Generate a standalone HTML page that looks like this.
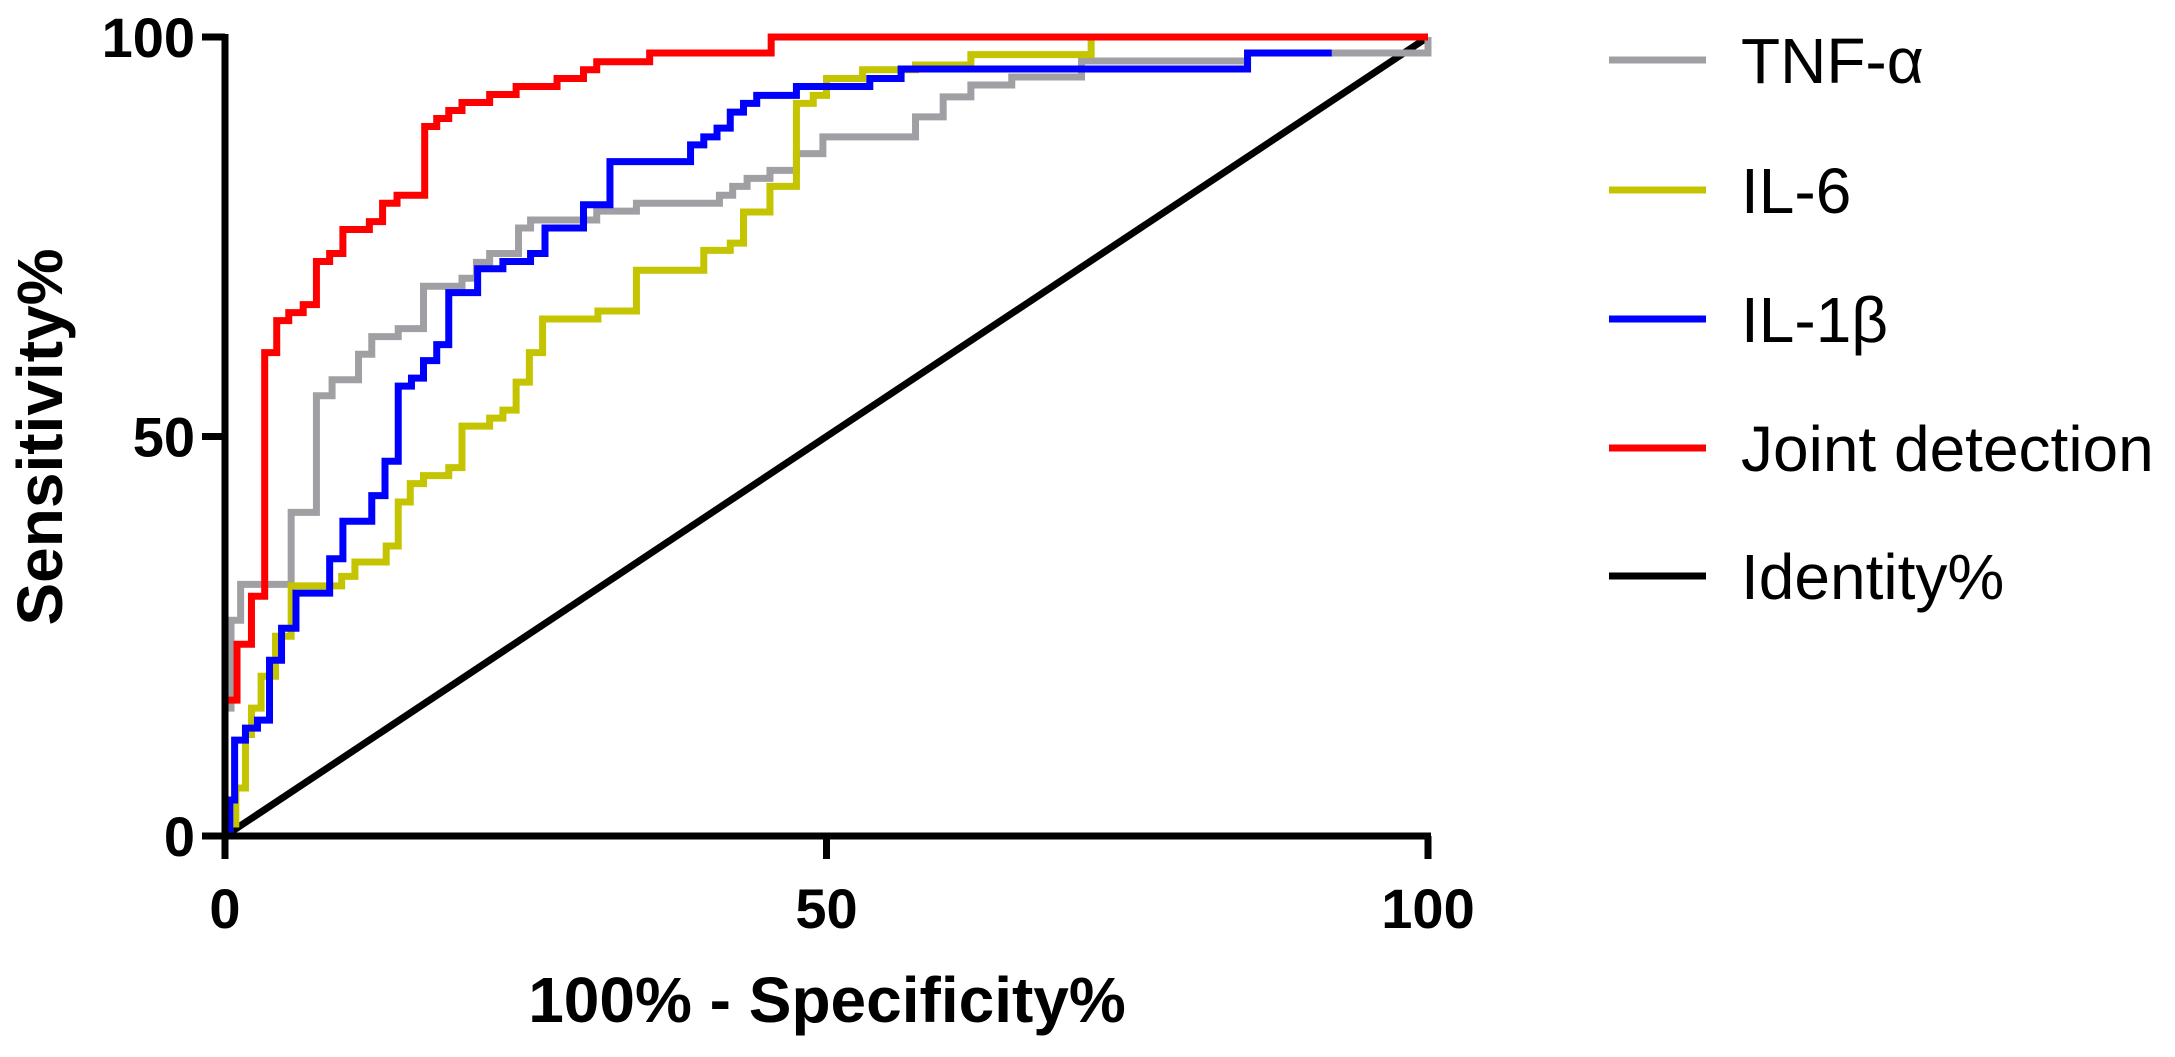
<!DOCTYPE html>
<html><head><meta charset="utf-8"><style>
html,body{margin:0;padding:0;background:#fff;}
svg text{font-family:"Liberation Sans",Arial,sans-serif;}
</style></head><body>
<svg id="chart" width="2175" height="1052" viewBox="0 0 2175 1052" xmlns="http://www.w3.org/2000/svg">
<g id="plot"></g>
<g id="axes"></g>
<g id="legend"></g>
</svg>
<script>
const xTicks = [0, 50, 100];
const yTicks = [0, 50, 100];
const seriesNames = ["TNF-α", "IL-6", "IL-1β", "Joint detection", "Identity%"];
const seriesColors = ["#a0a0a4", "#c4c400", "#0000ff", "#ff0000", "#000000"];
const tnfX = [0,0,0.5,1.3,5.5,7.6,8.9,11.1,12.2,14.4,16.5,19.7,20.9,22.0,24.4,25.4,30.9,34.2,41.1,42.2,43.4,45.3,47.5,49.7,57.4,59.7,62,65.4,71.2,85,100];
const tnfY = [0,16,27,31.5,40.5,55.1,57.1,60.3,62.5,63.5,68.8,69.8,71.8,72.9,76.1,77.1,78.2,79.2,80.2,81.3,82.3,83.3,85.4,87.5,90,92.5,94,95,97,98,100];
const il6X = [0,0.4,0.9,1.7,2.2,3.0,4.2,5.5,9.7,10.8,13.4,14.4,15.4,16.5,18.6,19.7,22.0,23.1,24.2,25.3,26.4,31.0,34.2,39.8,42.0,43.1,45.3,47.5,48.9,50.0,53.0,57.4,62,72,100];
const il6Y = [0,1.5,6,12.7,16,20,25,31.3,32.5,34.3,36.3,41.8,44.1,45.1,46.1,51.3,52.3,53.3,56.8,60.5,64.7,65.7,70.8,73.3,74.2,78.1,81.3,91.7,92.7,94.8,95.9,96.5,97.8,100,100];
const il1X = [0,0.4,0.8,1.7,2.7,3.7,4.7,5.9,8.7,9.8,12.2,13.3,14.4,15.5,16.5,17.6,18.6,21.0,23.1,25.4,26.6,29.8,32.0,38.7,39.8,40.9,42.0,43.1,44.2,47.5,53.6,56.2,85,92];
const il1Y = [0,4.5,12,13.5,14.5,22,26,30.4,34.7,39.4,42.6,46.9,56.3,57.3,59.5,61.5,68,71,71.9,72.9,76.1,79,84.4,86.5,87.5,88.6,90.6,91.7,92.7,93.8,94.8,96,98,98];
const jointX = [0,0,1.0,2.2,3.3,4.3,5.3,6.5,7.6,8.7,9.8,12.0,13.1,14.3,16.6,17.6,18.6,19.7,22.0,24.2,27.6,29.8,30.9,35.3,45.4,100];
const jointY = [0,17,24,30,60.5,64.5,65.5,66.5,71.9,72.9,75.9,76.9,79.2,80.2,88.8,89.8,90.8,91.8,92.8,93.8,94.8,95.9,96.9,98,100,100];
const identityX = [0, 100];
const identityY = [0, 100];

const NS = "http://www.w3.org/2000/svg";
const X0 = 225, X1 = 1428, Y0 = 836, Y1 = 37;
const LW = 7;
function sx(v){ return X0 + (X1 - X0) * v / 100; }
function sy(v){ return Y0 - (Y0 - Y1) * v / 100; }
function mk(tag, attrs, parent){
  const e = document.createElementNS(NS, tag);
  for (const k in attrs) e.setAttribute(k, attrs[k]);
  parent.appendChild(e);
  return e;
}
const plot = document.getElementById("plot");
const axes = document.getElementById("axes");
const legend = document.getElementById("legend");

function stepPath(xs, ys){
  let d = "M" + sx(xs[0]) + "," + sy(ys[0]);
  for (let i = 1; i < xs.length; i++){
    d += " H" + sx(xs[i]) + " V" + sy(ys[i]);
  }
  return d;
}
const order = [
  [tnfX, tnfY, 0, "tnf-alpha-curve"],
  [il6X, il6Y, 1, "il6-curve"],
  [il1X, il1Y, 2, "il1-beta-curve"],
  [jointX, jointY, 3, "joint-detection-curve"]
];
const lid = mk("line", {x1:sx(identityX[0]), y1:sy(identityY[0]), x2:sx(identityX[1]), y2:sy(identityY[1]), stroke:seriesColors[4], "stroke-width":LW}, plot);


order.forEach(o => {
  const p = mk("path", {d:stepPath(o[0], o[1]), fill:"none", stroke:seriesColors[o[2]], "stroke-width":LW, "stroke-linejoin":"miter"}, plot);
  
  
});

const ya = mk("line", {x1:X0, y1:Y1-3, x2:X0, y2:Y0+3, stroke:"#000", "stroke-width":LW}, axes);


const xa = mk("line", {x1:X0-3, y1:Y0, x2:X1+3, y2:Y0, stroke:"#000", "stroke-width":LW}, axes);


yTicks.forEach(v => {
  const t = mk("line", {x1:X0-23, y1:sy(v), x2:X0, y2:sy(v), stroke:"#000", "stroke-width":LW}, axes);
  
  
  const l = mk("text", {x:X0-30, y:sy(v)+20, "text-anchor":"end", "font-size":56, "font-weight":"bold"}, axes);
  l.textContent = v;
  
  
});
xTicks.forEach(v => {
  const t = mk("line", {x1:sx(v), y1:Y0, x2:sx(v), y2:Y0+23, stroke:"#000", "stroke-width":LW}, axes);
  
  
  const l = mk("text", {x:sx(v), y:928, "text-anchor":"middle", "font-size":56, "font-weight":"bold"}, axes);
  l.textContent = v;
  
  
});
const xt = mk("text", {x:827, y:1022, "text-anchor":"middle", "font-size":64, "font-weight":"bold"}, axes);
xt.textContent = "100% - Specificity%";


const yt = mk("text", {x:0, y:0, "text-anchor":"middle", "font-size":64, "font-weight":"bold", transform:"translate(62,437) rotate(-90)"}, axes);
yt.textContent = "Sensitivity%";



const legY = [60, 190, 319, 448, 576];
seriesNames.forEach((n, i) => {
  const g = mk("g", {}, legend);
  
  
  mk("line", {x1:1609, y1:legY[i], x2:1706, y2:legY[i], stroke:seriesColors[i], "stroke-width":LW}, g);
  const t = mk("text", {x:1741, y:legY[i]+23, "font-size":64}, g);
  t.textContent = n;
});
</script>
</body></html>
